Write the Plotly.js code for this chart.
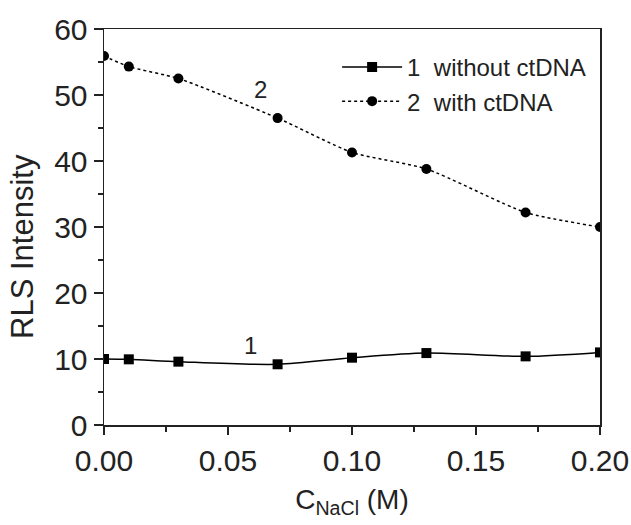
<!DOCTYPE html>
<html>
<head>
<meta charset="utf-8">
<script src="https://cdn.plot.ly/plotly-3.0.1.min.js"></script>
<style>html,body{margin:0;padding:0;background:#fff;}#chart{width:631px;height:525px;}</style>
</head>
<body>
<div id="chart"></div>
<script>
const concentration = [0.00, 0.01, 0.03, 0.07, 0.10, 0.13, 0.17, 0.20];
const withoutCtDNA = [10.0, 9.95, 9.6, 9.2, 10.2, 10.9, 10.4, 11.0];
const withCtDNA = [55.9, 54.3, 52.5, 46.5, 41.3, 38.8, 32.2, 30.0];
const seriesNames = ['1\u00a0\u00a0without ctDNA', '2\u00a0\u00a0with ctDNA'];
const curveLabels = ['1', '2'];
const curveLabelPos = [[0.059, 12.1], [0.063, 50.8]];
const yTitleText = 'RLS Intensity';

const FONT = 'Liberation Sans, Arial, Helvetica, sans-serif';

const traces = [
  {
    x: concentration, y: withoutCtDNA, name: seriesNames[0],
    mode: 'lines+markers', type: 'scatter',
    line: {color: '#000', width: 1.5, shape: 'spline', smoothing: 0.8},
    marker: {symbol: 'square', size: 10, color: '#000'}
  },
  {
    x: concentration, y: withCtDNA, name: seriesNames[1],
    mode: 'lines+markers', type: 'scatter',
    line: {color: '#000', width: 1.5, dash: 'dot', shape: 'spline', smoothing: 0.6},
    marker: {symbol: 'circle', size: 10, color: '#000'}
  }
];

const layout = {
  width: 631, height: 525,
  margin: {l: 104, r: 31, t: 29, b: 100},
  paper_bgcolor: '#fff', plot_bgcolor: '#fff',
  font: {family: FONT, color: '#000'},
  showlegend: true,
  legend: {
    x: 0.47, y: 0.96, xanchor: 'left', yanchor: 'top',
    bgcolor: 'rgba(0,0,0,0)', borderwidth: 0,
    font: {family: FONT, size: 24, color: '#222'},
    itemwidth: 60
  },
  xaxis: {
    range: [0, 0.2], showgrid: false, zeroline: false,
    showline: true, linecolor: '#222', linewidth: 1.5, mirror: true,
    ticks: 'outside', ticklen: 8, tickwidth: 1.5, tickcolor: '#222',
    tickvals: [0, 0.05, 0.10, 0.15, 0.20],
    ticktext: ['0.00', '0.05', '0.10', '0.15', '0.20'],
    tickfont: {family: FONT, size: 30, color: '#222'},
    minor: {dtick: 0.025, ticks: 'outside', ticklen: 5, tickwidth: 1.5, tickcolor: '#222', showgrid: false},
    title: {text: 'C<sub>NaCl</sub> (M)', font: {family: FONT, size: 28, color: '#222'}, standoff: 14}
  },
  yaxis: {
    range: [0, 60], showgrid: false, zeroline: false,
    showline: true, linecolor: '#222', linewidth: 1.5, mirror: true,
    ticks: 'outside', ticklen: 9, tickwidth: 1.5, tickcolor: '#222',
    tickvals: [0, 10, 20, 30, 40, 50, 60],
    tickfont: {family: FONT, size: 30, color: '#222'},
    minor: {dtick: 5, ticks: 'outside', ticklen: 5, tickwidth: 1.5, tickcolor: '#222', showgrid: false}
  },
  annotations: curveLabels.map((t, i) => ({
    x: curveLabelPos[i][0], y: curveLabelPos[i][1], xref: 'x', yref: 'y',
    text: t, showarrow: false, font: {family: FONT, size: 24, color: '#222'}
  })).concat([{
    xref: 'paper', yref: 'paper', x: -0.163, y: 0.45,
    text: yTitleText, textangle: -90, showarrow: false,
    xanchor: 'center', yanchor: 'middle',
    font: {family: FONT, size: 31, color: '#222'}
  }])
};

Plotly.newPlot('chart', traces, layout, {staticPlot: true, displayModeBar: false});
</script>
</body>
</html>
